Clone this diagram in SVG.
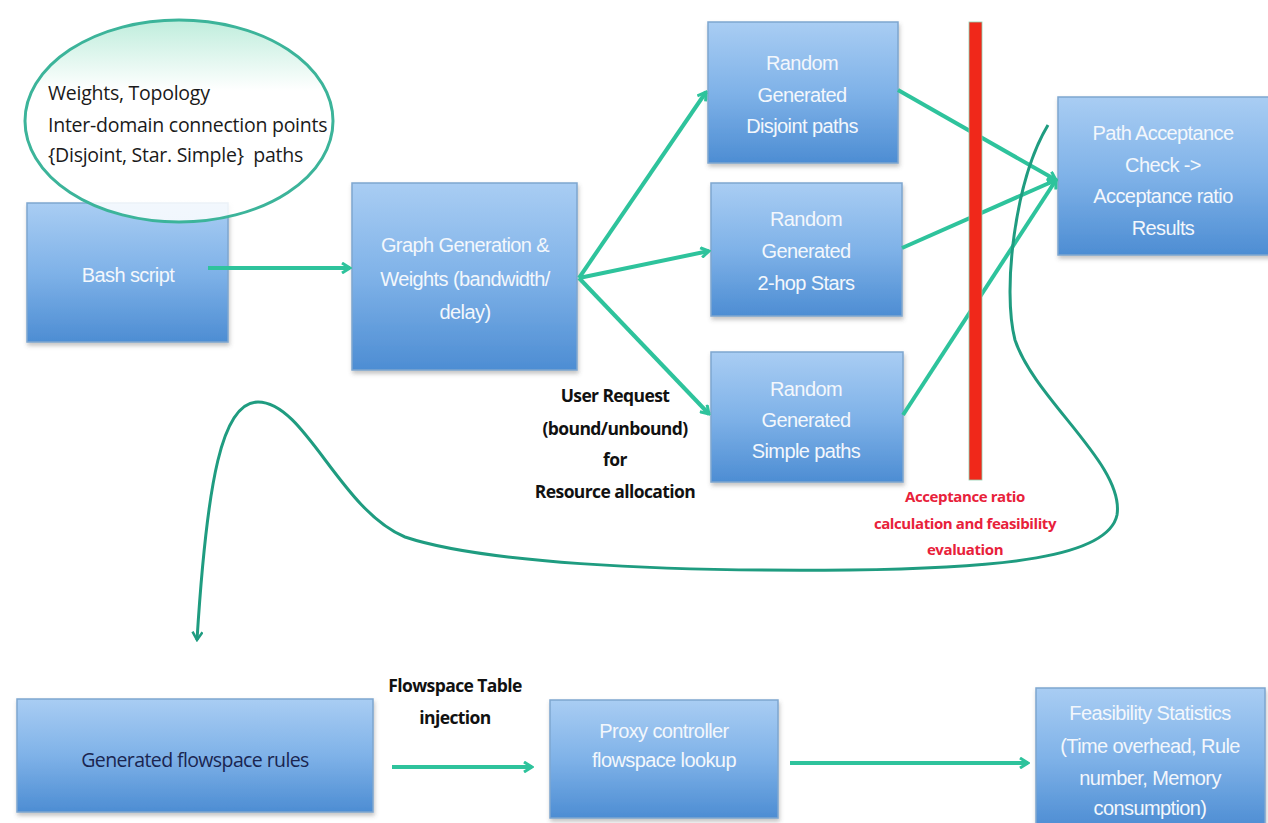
<svg xmlns="http://www.w3.org/2000/svg" width="1268" height="823" viewBox="0 0 1268 823">
<defs>
<linearGradient id="boxg" x1="0" y1="0" x2="0" y2="1">
<stop offset="0" stop-color="#a9cdf3"/>
<stop offset="0.5" stop-color="#7fb2e8"/>
<stop offset="1" stop-color="#4d8dd3"/>
</linearGradient>
<linearGradient id="ellg" x1="0" y1="0" x2="0" y2="1">
<stop offset="0" stop-color="#b4ead6"/>
<stop offset="0.35" stop-color="#ffffff"/>
<stop offset="1" stop-color="#ffffff"/>
</linearGradient>
<filter id="sh" x="-10%" y="-10%" width="120%" height="125%">
<feDropShadow dx="1" dy="3" stdDeviation="2" flood-color="#555" flood-opacity="0.35"/>
</filter>
<marker id="ah" viewBox="0 0 12 12" refX="10" refY="6" markerWidth="12" markerHeight="12" markerUnits="userSpaceOnUse" orient="auto">
<path d="M2,1 L10,6 L2,11" fill="none" stroke="#2ec39c" stroke-width="3" stroke-linejoin="miter"/>
</marker>
<marker id="ah2" viewBox="0 0 12 12" refX="10" refY="6" markerWidth="12" markerHeight="12" markerUnits="userSpaceOnUse" orient="auto">
<path d="M2,1 L10,6 L2,11" fill="none" stroke="#1f9c80" stroke-width="2.5"/>
</marker>
</defs>
<style>
.box{fill:url(#boxg);stroke:#7ea6cf;stroke-width:1.5;filter:url(#sh)}
.wt{font-family:"Liberation Sans",Arial,sans-serif;font-size:20px;fill:#f3f7fc;text-anchor:middle;letter-spacing:-0.6px}
.dk{font-family:"Open Sans","Lato",sans-serif;font-size:19.5px;fill:#1a1a1a;letter-spacing:-0.25px}
.bd{font-family:"Open Sans","Lato",sans-serif;font-size:17.5px;font-weight:bold;fill:#111;text-anchor:middle;letter-spacing:-0.6px}
.rd{font-family:"Open Sans","Lato",sans-serif;font-size:15px;font-weight:bold;fill:#e8213a;text-anchor:middle;letter-spacing:-0.4px}
.cn{fill:none;stroke:#2ec39c;stroke-width:4;marker-end:url(#ah)}
.cv{fill:none;stroke:#1f9c80;stroke-width:3}
</style>
<rect width="1268" height="823" fill="#ffffff"/>

<g id="bash">
<rect class="box" x="27" y="203" width="201" height="139"/>
<text class="wt" x="128" y="282">Bash script</text>
</g>

<g id="note">
<ellipse cx="179" cy="121" rx="154" ry="101" fill="url(#ellg)" fill-opacity="0.85" stroke="#3cb49a" stroke-width="3"/>
<text class="dk" x="48" y="100">Weights, Topology</text>
<text class="dk" x="48" y="132">Inter-domain connection points</text>
<text class="dk" x="48" y="162">{Disjoint, Star. Simple}&#160; paths</text>
</g>

<g id="graph">
<rect class="box" x="352" y="183" width="225" height="187"/>
<text class="wt" x="465" y="252">Graph Generation &amp;</text>
<text class="wt" x="465" y="286">Weights (bandwidth/</text>
<text class="wt" x="465" y="319">delay)</text>
</g>

<g id="disjoint">
<rect class="box" x="708" y="22" width="190" height="141"/>
<text class="wt" x="802" y="70">Random</text>
<text class="wt" x="802" y="102">Generated</text>
<text class="wt" x="802" y="133">Disjoint paths</text>
</g>

<g id="stars">
<rect class="box" x="711" y="183" width="191" height="133"/>
<text class="wt" x="806" y="226">Random</text>
<text class="wt" x="806" y="258">Generated</text>
<text class="wt" x="806" y="290">2-hop Stars</text>
</g>

<g id="simple">
<rect class="box" x="711" y="352" width="192" height="130"/>
<text class="wt" x="806" y="396">Random</text>
<text class="wt" x="806" y="427">Generated</text>
<text class="wt" x="806" y="458">Simple paths</text>
</g>

<g id="path-acceptance">
<rect class="box" x="1058" y="97" width="215" height="158"/>
<text class="wt" x="1163" y="140">Path Acceptance</text>
<text class="wt" x="1163" y="172">Check -&gt;</text>
<text class="wt" x="1163" y="203">Acceptance ratio</text>
<text class="wt" x="1163" y="235">Results</text>
</g>

<g id="flowspace-rules">
<rect class="box" x="17" y="699" width="356" height="113"/>
<text class="dk" x="195" y="767" text-anchor="middle" style="font-size:19.5px;fill:#1a2550;letter-spacing:-0.6px">Generated flowspace rules</text>
</g>

<g id="proxy">
<rect class="box" x="550" y="700" width="228" height="118"/>
<text class="wt" x="664" y="738">Proxy controller</text>
<text class="wt" x="664" y="767">flowspace lookup</text>
</g>

<g id="feasibility">
<rect class="box" x="1036" y="688" width="229" height="140"/>
<text class="wt" x="1150" y="720">Feasibility Statistics</text>
<text class="wt" x="1150" y="753">(Time overhead, Rule</text>
<text class="wt" x="1150" y="785">number, Memory</text>
<text class="wt" x="1150" y="815">consumption)</text>
</g>

<g id="connectors">
<line class="cn" x1="208" y1="268" x2="350" y2="268"/>
<line class="cn" x1="579" y1="278" x2="706" y2="92"/>
<line class="cn" x1="579" y1="278" x2="709" y2="251"/>
<line class="cn" x1="579" y1="278" x2="709" y2="414"/>
<line class="cn" x1="898" y1="90" x2="1056" y2="180"/>
<line class="cn" x1="902" y1="248" x2="1056" y2="180"/>
<line class="cn" x1="903" y1="415" x2="1056" y2="180"/>
<line class="cn" x1="392" y1="767" x2="532" y2="767"/>
<line class="cn" x1="790" y1="763" x2="1028" y2="763"/>
<path class="cv" marker-end="url(#ah2)" d="M1048,125 C1015,180 1002,290 1015,340 C1035,400 1125,465 1117,515 C1108,558 1000,568 850,570 C650,572 480,562 405,537 C340,510 305,402 258,402 C222,402 207,480 197,640"/>
<text class="bd" x="615" y="402">User Request</text>
<text class="bd" x="615" y="435">(bound/unbound)</text>
<text class="bd" x="615" y="466">for</text>
<text class="bd" x="615" y="498">Resource allocation</text>
<text class="bd" x="455" y="692">Flowspace Table</text>
<text class="bd" x="455" y="724">injection</text>
</g>

<g id="barrier">
<rect x="969" y="22" width="13" height="458" fill="#f0281a" stroke="#8fcfb0" stroke-width="0.8"/>
<text class="rd" x="965" y="502">Acceptance ratio</text>
<text class="rd" x="965" y="529">calculation and feasibility</text>
<text class="rd" x="965" y="555">evaluation</text>
</g>
</svg>
